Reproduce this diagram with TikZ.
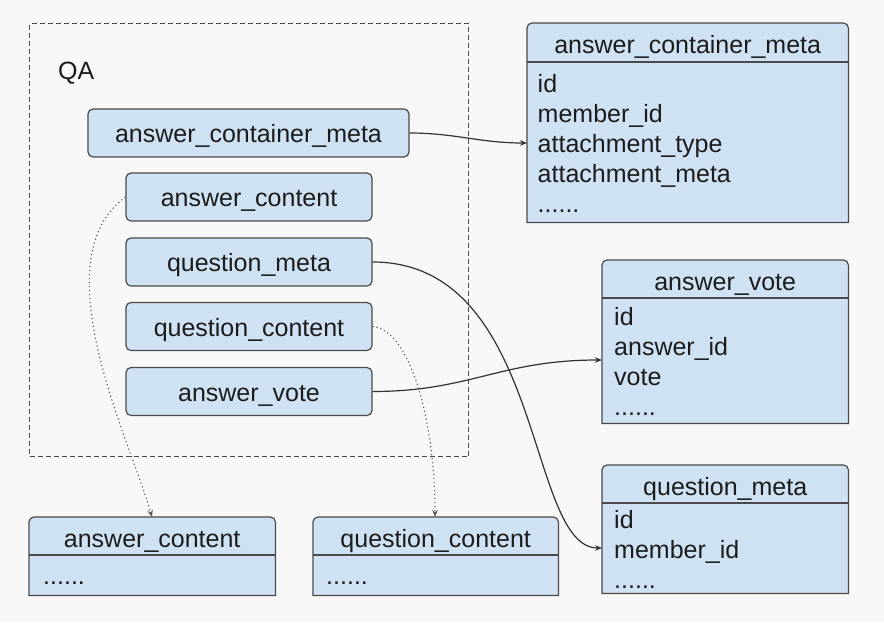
\documentclass[tikz,border=0pt]{standalone}
\usepackage{fontspec}
\setmainfont{Liberation Sans}
\usetikzlibrary{arrows.meta}
\definecolor{bg}{HTML}{F8F8F8}
\definecolor{boxfill}{HTML}{CFE2F3}
\definecolor{edgec}{HTML}{4A4A4A}
\definecolor{wirec}{HTML}{333333}
\definecolor{dotc}{HTML}{5A5A5A}
\definecolor{textc}{HTML}{1C1C1C}
\newcommand\tbloutline[2]{%
  \draw[tblline, fill=boxfill] (#1.south west) -- ([yshift=-5pt]#1.north west)
    arc[start angle=180,end angle=90,radius=5pt] -- ([xshift=-5pt]#1.north east)
    arc[start angle=90,end angle=0,radius=5pt] -- (#1.south east) -- cycle;
  \draw[tblline] (#1.west |- 0,#2) -- (#1.east |- 0,#2);}
\begin{document}
\begin{tikzpicture}[x=1pt,y=-1pt,
  txt/.style={font=\fontsize{25}{30}\selectfont, text=textc},
  qabox/.style={draw=edgec, line width=1.2pt, fill=boxfill, rounded corners=5pt,
    minimum height=48pt, inner sep=0pt, text height=19.5pt, text depth=0.5pt, txt},
  tblnode/.style={anchor=north west, inner sep=0pt},
  tblline/.style={draw=edgec, line width=1.2pt},
  rowtxt/.style={txt, anchor=base west, inner sep=0pt},
  headtxt/.style={txt, anchor=base, inner sep=0pt},
  dashbox/.style={draw=edgec, line width=1.1pt, dash pattern=on 5pt off 3pt, anchor=north west, inner sep=0pt},
  wire/.style={draw=wirec, line width=1.2pt, -{Stealth[length=7pt,width=5.5pt]}},
  dotwire/.style={draw=dotc, line width=1.1pt, dash pattern=on 1.2pt off 2.8pt, -{Stealth[length=7pt,width=5.5pt]}}
]
\useasboundingbox (0,0) rectangle (884,622);
\fill[bg] (0,0) rectangle (884,622);

% QA frame
\node[dashbox, minimum width=439pt, minimum height=433pt] (qaframe) at (29,23) {};
\node[rowtxt] (qa) at (58,79) {QA};

% QA boxes
\node[qabox, minimum width=321pt] (bacm) at (248.5,133) {answer\_container\_meta};
\node[qabox, minimum width=246pt] (bac) at (249,197) {answer\_content};
\node[qabox, minimum width=246pt] (bqm) at (249,262) {question\_meta};
\node[qabox, minimum width=246pt] (bqc) at (249,326.5) {question\_content};
\node[qabox, minimum width=246pt] (bav) at (249,391.5) {answer\_vote};

% tables
\node[tblnode, minimum width=321pt, minimum height=199pt] (tacm) at (527,23) {};
\tbloutline{tacm}{62}
\node[headtxt] (tacmh) at (tacm.north |- 0,53) {answer\_container\_meta};
\node[rowtxt] (tacm1) at (537.5,92) {id};
\node[rowtxt] (tacm2) at (537.5,122) {member\_id};
\node[rowtxt] (tacm3) at (537.5,152) {attachment\_type};
\node[rowtxt] (tacm4) at (537.5,182) {attachment\_meta};
\node[rowtxt] (tacm5) at (537.5,212) {......};

\node[tblnode, minimum width=246pt, minimum height=163pt] (tav) at (602,260) {};
\tbloutline{tav}{298}
\node[headtxt] (tavh) at (tav.north |- 0,290) {answer\_vote};
\node[rowtxt] (tav1) at (614,325) {id};
\node[rowtxt] (tav2) at (614,355) {answer\_id};
\node[rowtxt] (tav3) at (614,385) {vote};
\node[rowtxt] (tav4) at (614,415) {......};

\node[tblnode, minimum width=246pt, minimum height=128pt] (tqm) at (602,465) {};
\tbloutline{tqm}{503}
\node[headtxt] (tqmh) at (tqm.north |- 0,495) {question\_meta};
\node[rowtxt] (tqm1) at (614,528) {id};
\node[rowtxt] (tqm2) at (614,558) {member\_id};
\node[rowtxt] (tqm3) at (614,588) {......};

\node[tblnode, minimum width=246pt, minimum height=78pt] (tac) at (29,517) {};
\tbloutline{tac}{555}
\node[headtxt] (tach) at (tac.north |- 0,547) {answer\_content};
\node[rowtxt] (tac1) at (43,584) {......};

\node[tblnode, minimum width=245pt, minimum height=78pt] (tqc) at (313,517) {};
\tbloutline{tqc}{555}
\node[headtxt] (tqch) at (tqc.north |- 0,547) {question\_content};
\node[rowtxt] (tqc1) at (326,584) {......};

% connector ends
\coordinate (acmIn) at (tacm.west |- 0,143);
\coordinate (avIn) at (tav.west |- 0,360);
\coordinate (qmIn) at (tqm.west |- 0,548);
\coordinate (acIn) at (tac.north -| 152,0);
\coordinate (qcIn) at (tqc.north -| 435,0);

% connectors
\draw[wire] (bacm.east) .. controls (455,133) and (480,143) .. (acmIn);
\draw[wire] (bqm.east) .. controls (545,262) and (526,548) .. (qmIn);
\draw[wire] (bav.east) .. controls (470,391.5) and (500,360) .. (avIn);
\draw[dotwire] (bac.west) .. controls (40,260) and (130,440) .. (acIn);
\draw[dotwire] (bqc.east) .. controls (410,330) and (435,420) .. (qcIn);
\end{tikzpicture}
\end{document}
